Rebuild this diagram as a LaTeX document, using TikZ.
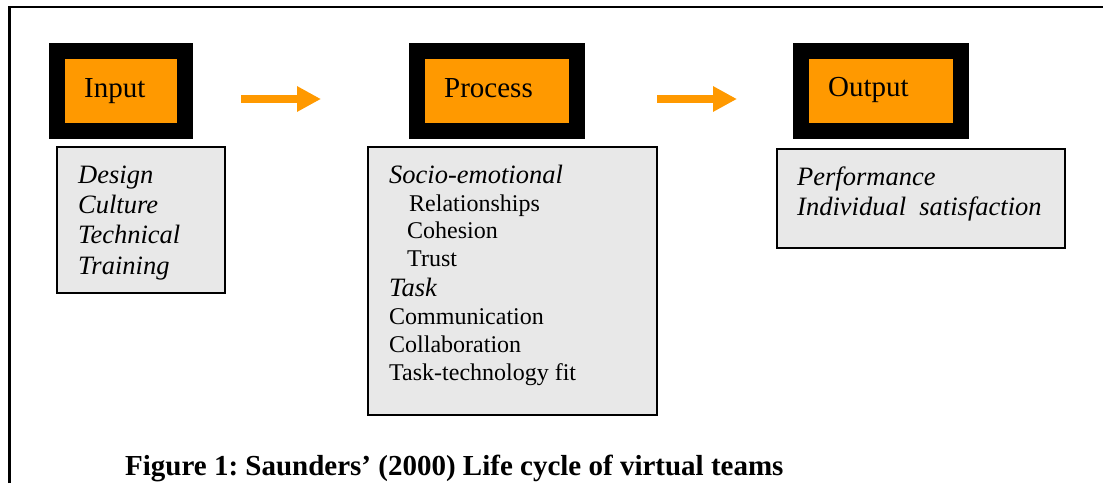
\documentclass[tikz,border=0pt]{standalone}
\usepackage{fontspec}
\setmainfont{Liberation Serif}
\usetikzlibrary{arrows.meta}
\definecolor{boxorange}{HTML}{FF9900}
\definecolor{boxgrey}{HTML}{E8E8E8}
\frenchspacing
\tikzset{
  stagebox/.style={draw=black, fill=boxorange, line width=16pt, inner sep=0pt, minimum height=80pt},
  listbox/.style={draw=black, fill=boxgrey, line width=1.6pt, inner sep=0pt},
  headtext/.style={anchor=base west, inner sep=0pt, font=\fontsize{29}{32}\selectfont},
  itemit/.style={anchor=base west, inner sep=0pt, font=\fontsize{26.5}{30}\selectfont\itshape},
  itemrm/.style={anchor=base west, inner sep=0pt, font=\fontsize{24}{28}\selectfont},
  flowarrow/.style={draw=boxorange, line width=8pt, -{Triangle[width=24pt,length=24pt]}},
  captext/.style={anchor=base west, inner sep=0pt, font=\fontsize{29}{32}\selectfont\bfseries}
}
\begin{document}
\begin{tikzpicture}[x=1pt,y=-1pt]
\useasboundingbox (0,0) rectangle (1103,483);
% frame
\draw[line width=2.6pt] (9.5,483) -- (9.5,7) -- (1103,7);
% stage boxes
\node[stagebox, minimum width=128pt] (in) at (121,91) {};
\node[stagebox, minimum width=160pt] (proc) at (497,91) {};
\node[stagebox, minimum width=160pt] (out) at (881,91) {};
\node[headtext] (inlab) at (84,97) {Input};
\node[headtext] (proclab) at (444,97) {Process};
\node[headtext] (outlab) at (828,96) {Output};
% arrows
\coordinate (a1s) at (241,99); \coordinate (a1e) at (321,99);
\coordinate (a2s) at (657,99); \coordinate (a2e) at (737,99);
\draw[flowarrow] (a1s) -- (a1e);
\draw[flowarrow] (a2s) -- (a2e);
% list boxes
\node[listbox, minimum width=168pt, minimum height=146pt] (inlist) at (141,220) {};
\node[listbox, minimum width=289pt, minimum height=268pt] (proclist) at (512.5,281) {};
\node[listbox, minimum width=288pt, minimum height=99pt] (outlist) at (921,198.5) {};
% input items
\node[itemit] (i1) at (78,183) {Design};
\node[itemit] (i2) at (78,213) {Culture};
\node[itemit] (i3) at (78,243) {Technical};
\node[itemit] (i4) at (78,274) {Training};
% process items
\node[itemit] (p1) at (389,183) {Socio-emotional};
\node[itemrm] (p2) at (409,211) {Relationships};
\node[itemrm] (p3) at (407,238) {Cohesion};
\node[itemrm] (p4) at (407,266) {Trust};
\node[itemit] (p5) at (389,296) {Task};
\node[itemrm] (p6) at (389,324) {Communication};
\node[itemrm] (p7) at (389,352) {Collaboration};
\node[itemrm] (p8) at (389,380) {Task-technology fit};
% output items
\node[itemit] (o1) at (797,185) {Performance};
\node[itemit] (o2) at (797,215) {Individual\ \ satisfaction};
% caption
\node[captext] (cap) at (125,475) {Figure 1: Saunders’ (2000) Life cycle of virtual teams};
\end{tikzpicture}
\end{document}
